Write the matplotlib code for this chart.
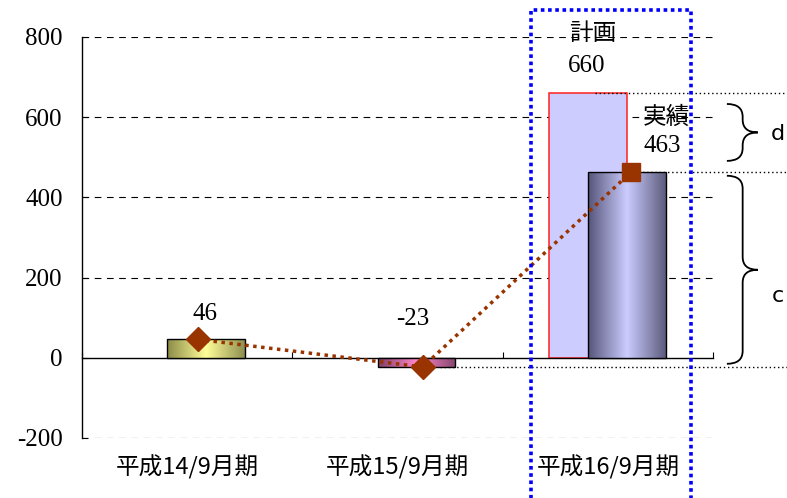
import numpy as np
import matplotlib.pyplot as plt
from matplotlib.patches import Rectangle, PathPatch
from matplotlib.path import Path
from matplotlib.colors import LinearSegmentedColormap
from matplotlib.transforms import blended_transform_factory

plt.rcParams['font.family'] = ['Noto Sans CJK JP', 'DejaVu Sans']
plt.rcParams['axes.unicode_minus'] = False

# data
categories = ['平成14/9月期', '平成15/9月期', '平成16/9月期']
actual = [46, -23, 463]
plan = [np.nan, np.nan, 660]
yticks = [-200, 0, 200, 400, 600, 800]

fig = plt.figure(figsize=(7.87, 4.98), dpi=100)
ax = fig.add_axes([82 / 787, 1 - 438 / 498, 631 / 787, 401 / 498])
x = np.arange(len(categories))
w = 0.37

# plan bar (flat) and actual bars (gradient fill)
ax.bar(x - 0.095, plan, w, facecolor='#ccccff', edgecolor='#ff2020', linewidth=1.1, zorder=2)
act_bars = ax.bar(x + 0.09, actual, w, color='none', edgecolor='black', linewidth=1, zorder=4)

grads = [('#8a8a48', '#ffff99', '#8e8e50'),
         ('#80406a', '#ff88cc', '#86466e'),
         ('#55557a', '#ccccff', '#5c5c7e')]
for bar, cols in zip(act_bars, grads):
    cmap = LinearSegmentedColormap.from_list('g', list(zip([0, 0.5, 1], cols)))
    x0, y0 = bar.get_x(), bar.get_y()
    im = ax.imshow(np.linspace(0, 1, 256)[None, :], cmap=cmap, aspect='auto',
                   extent=(x0, x0 + bar.get_width(), y0, y0 + bar.get_height()),
                   interpolation='bilinear', zorder=3)
    im.set_clip_path(bar)

# trend line through actual values
dx = np.array([0.05, 0.12, 0.11])
ax.plot(x + dx, actual, color='#993300', lw=2.5, ls=(0, (1, 1.3)), zorder=5)
ax.plot(x[:2] + dx[:2], actual[:2], 'D', ms=12, color='#993300', zorder=6)
ax.plot(x[2:] + dx[2:], actual[2:], 's', ms=13, color='#993300', zorder=6)

ax.set_xlim(-0.5, 2.5)
ax.set_ylim(-200, 800)

# axes styling
for s in ['top', 'right']:
    ax.spines[s].set_visible(False)
ax.spines['bottom'].set_position(('data', 0))
ax.spines['bottom'].set_linewidth(1)
ax.spines['left'].set_linewidth(1)
ax.set_yticks(yticks)
ax.tick_params(axis='y', direction='in', length=4, pad=14, labelsize=18,
               labelfontfamily='Liberation Serif')
ax.yaxis.grid(True, color='black', lw=0.8, ls=(0, (6, 5)))
ax.get_ygridlines()[1].set_visible(False)
ax.set_axisbelow(True)

ax.set_xticks([-0.5, 0.5, 1.5, 2.5])
ax.set_xticks(x, categories, minor=True)
ax.tick_params(axis='x', which='major', direction='in', length=4, labelbottom=False)
ax.tick_params(axis='x', which='minor', length=0, pad=70, labelsize=17)

# value labels
serif = 'Liberation Serif'
ax.text(0.085, 110, '46', ha='center', va='center', fontsize=18, family=serif)
ax.text(1.074, 97, '-23', ha='center', va='center', fontsize=18, family=serif)
ax.text(1.90, 728, '660', ha='center', va='center', fontsize=18, family=serif)
ax.text(2.258, 529, '463', ha='center', va='center', fontsize=18, family=serif)
ax.text(1.93, 808, '計画', ha='center', va='center', fontsize=17)
ax.text(2.28, 600, '実績', ha='center', va='center', fontsize=17)

# reference dotted lines and braces on the right
tr = blended_transform_factory(ax.transAxes, ax.transData)
for xs, v in [(0.813, plan[2]), (0.868, actual[2]), (0.567, actual[1])]:
    ax.plot([xs, 1.15], [v, v], transform=tr, color='black', lw=1, ls=(0, (1, 2)),
            clip_on=False, zorder=2)


def brace(y_top, y_bot, r=32):
    x0, x1, x2 = 1.022, 1.047, 1.071
    ym = (y_top + y_bot) / 2
    verts = [(x0, y_top), (x1, y_top), (x1, y_top - r),
             (x1, ym + r), (x1, ym), (x2, ym),
             (x1, ym), (x1, ym - r),
             (x1, y_bot + r), (x1, y_bot), (x0, y_bot)]
    codes = [Path.MOVETO, Path.CURVE3, Path.CURVE3, Path.LINETO, Path.CURVE3, Path.CURVE3,
             Path.CURVE3, Path.CURVE3, Path.LINETO, Path.CURVE3, Path.CURVE3]
    ax.add_patch(PathPatch(Path(verts, codes), fill=False, lw=1.3, color='black',
                           transform=tr, clip_on=False))


brace(plan[2] - 27, actual[2] + 28)
brace(actual[2] - 9, actual[1] + 8)
ax.text(1.103, 558, 'd', transform=tr, ha='center', va='center', fontsize=16,
        family='Liberation Sans Narrow')
ax.text(1.103, 155, 'c', transform=tr, ha='center', va='center', fontsize=16,
        family='Liberation Sans Narrow')

# blue dotted frame around the last period
fig.add_artist(Rectangle((531 / 787, -0.1), 160 / 787, 1.08, transform=fig.transFigure,
                         fill=False, edgecolor='blue', lw=2.6, ls=(0, (1, 1))))

fig.savefig('out.png', dpi=100)
